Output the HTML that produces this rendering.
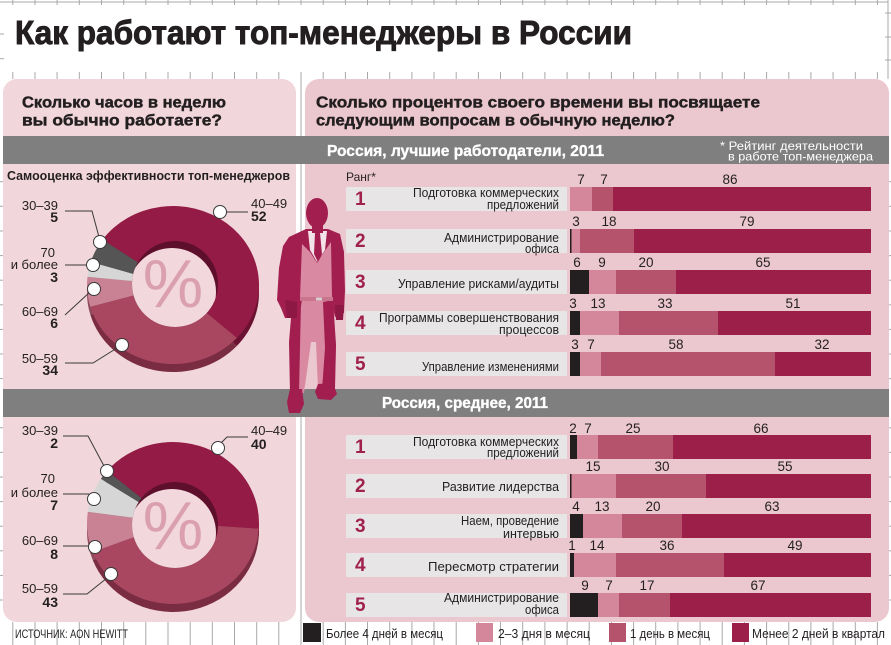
<!DOCTYPE html>
<html><head><meta charset="utf-8">
<style>
html,body{margin:0;padding:0;background:#fff;}
svg{display:block;}
text{font-family:"Liberation Sans","DejaVu Sans",sans-serif;fill:#231f20;}
.w{fill:#fff;}
.b{font-weight:bold;}
.hv{font-weight:bold;stroke:#231f20;stroke-width:0.45;}
.hw{font-weight:bold;fill:#fff;stroke:#fff;stroke-width:0.35;}
.lbl{font-size:13px;text-anchor:end;}
.num{font-size:13.5px;text-anchor:middle;}
.rk{font-size:19px;font-weight:bold;fill:#a0204e;}
.dl{font-size:13px;text-anchor:end;}
.dn{font-size:14px;font-weight:bold;text-anchor:end;}
.ld{stroke:#3a3a3a;stroke-width:1;fill:none;}
.mk{fill:#fff;stroke:#3a3a3a;stroke-width:1;}
.g{stroke:#a8a8a8;stroke-width:1;}
</style></head><body>
<svg width="891" height="645" viewBox="0 0 891 645" xmlns="http://www.w3.org/2000/svg">
<defs>
<clipPath id="h1"><ellipse cx="175" cy="284" rx="43" ry="43"/></clipPath>
<clipPath id="h2"><ellipse cx="175" cy="525" rx="43" ry="43"/></clipPath>
</defs>
<rect width="891" height="645" fill="#fff"/>

<!-- grid marks -->
<g class="g">
<line x1="0" y1="2" x2="888" y2="2"/>
<line x1="888" y1="0" x2="888" y2="79"/>
<line x1="301" y1="79" x2="301" y2="622"/>
<g id="ticks">
<line x1="12.8" y1="0" x2="12.8" y2="5"/><line x1="35" y1="0" x2="35" y2="5"/><line x1="57.1" y1="0" x2="57.1" y2="5"/><line x1="79.3" y1="0" x2="79.3" y2="5"/><line x1="101.5" y1="0" x2="101.5" y2="5"/><line x1="123.7" y1="0" x2="123.7" y2="5"/><line x1="145.8" y1="0" x2="145.8" y2="5"/><line x1="168" y1="0" x2="168" y2="5"/><line x1="190.2" y1="0" x2="190.2" y2="5"/><line x1="212.3" y1="0" x2="212.3" y2="5"/><line x1="234.5" y1="0" x2="234.5" y2="5"/><line x1="256.7" y1="0" x2="256.7" y2="5"/><line x1="278.8" y1="0" x2="278.8" y2="5"/><line x1="301" y1="0" x2="301" y2="5"/><line x1="323.2" y1="0" x2="323.2" y2="5"/><line x1="345.4" y1="0" x2="345.4" y2="5"/><line x1="367.5" y1="0" x2="367.5" y2="5"/><line x1="389.7" y1="0" x2="389.7" y2="5"/><line x1="411.9" y1="0" x2="411.9" y2="5"/><line x1="434" y1="0" x2="434" y2="5"/><line x1="456.2" y1="0" x2="456.2" y2="5"/><line x1="478.4" y1="0" x2="478.4" y2="5"/><line x1="500.5" y1="0" x2="500.5" y2="5"/><line x1="522.7" y1="0" x2="522.7" y2="5"/><line x1="544.9" y1="0" x2="544.9" y2="5"/><line x1="567.1" y1="0" x2="567.1" y2="5"/><line x1="589.2" y1="0" x2="589.2" y2="5"/><line x1="611.4" y1="0" x2="611.4" y2="5"/><line x1="633.6" y1="0" x2="633.6" y2="5"/><line x1="655.7" y1="0" x2="655.7" y2="5"/><line x1="677.9" y1="0" x2="677.9" y2="5"/><line x1="700.1" y1="0" x2="700.1" y2="5"/><line x1="722.2" y1="0" x2="722.2" y2="5"/><line x1="744.4" y1="0" x2="744.4" y2="5"/><line x1="766.6" y1="0" x2="766.6" y2="5"/><line x1="788.8" y1="0" x2="788.8" y2="5"/><line x1="810.9" y1="0" x2="810.9" y2="5"/><line x1="833.1" y1="0" x2="833.1" y2="5"/><line x1="855.3" y1="0" x2="855.3" y2="5"/><line x1="877.4" y1="0" x2="877.4" y2="5"/>
</g>
<use href="#ticks" transform="translate(0,72) scale(1,1.4)"/>
<use href="#ticks" transform="translate(0,622) scale(1,4.6)"/>
<line x1="0" y1="34" x2="4" y2="34"/><line x1="0" y1="58.7" x2="4" y2="58.7"/><line x1="0" y1="181.7" x2="5" y2="181.7"/><line x1="0" y1="206.3" x2="5" y2="206.3"/><line x1="0" y1="231" x2="5" y2="231"/><line x1="0" y1="255.6" x2="5" y2="255.6"/><line x1="0" y1="280.2" x2="5" y2="280.2"/><line x1="0" y1="304.8" x2="5" y2="304.8"/><line x1="0" y1="329.4" x2="5" y2="329.4"/><line x1="0" y1="354" x2="5" y2="354"/><line x1="0" y1="378.6" x2="5" y2="378.6"/><line x1="0" y1="427.8" x2="5" y2="427.8"/><line x1="0" y1="452.4" x2="5" y2="452.4"/><line x1="0" y1="477" x2="5" y2="477"/><line x1="0" y1="501.6" x2="5" y2="501.6"/><line x1="0" y1="526.2" x2="5" y2="526.2"/><line x1="0" y1="550.8" x2="5" y2="550.8"/><line x1="0" y1="575.4" x2="5" y2="575.4"/><line x1="0" y1="600" x2="5" y2="600"/>
<line x1="885" y1="13" x2="891" y2="13"/><line x1="885" y1="37" x2="891" y2="37"/><line x1="885" y1="60" x2="891" y2="60"/><line x1="886" y1="181.7" x2="891" y2="181.7"/><line x1="886" y1="206.3" x2="891" y2="206.3"/><line x1="886" y1="231" x2="891" y2="231"/><line x1="886" y1="255.6" x2="891" y2="255.6"/><line x1="886" y1="280.2" x2="891" y2="280.2"/><line x1="886" y1="304.8" x2="891" y2="304.8"/><line x1="886" y1="329.4" x2="891" y2="329.4"/><line x1="886" y1="354" x2="891" y2="354"/><line x1="886" y1="378.6" x2="891" y2="378.6"/><line x1="886" y1="427.8" x2="891" y2="427.8"/><line x1="886" y1="452.4" x2="891" y2="452.4"/><line x1="886" y1="477" x2="891" y2="477"/><line x1="886" y1="501.6" x2="891" y2="501.6"/><line x1="886" y1="526.2" x2="891" y2="526.2"/><line x1="886" y1="550.8" x2="891" y2="550.8"/><line x1="886" y1="575.4" x2="891" y2="575.4"/><line x1="886" y1="600" x2="891" y2="600"/>
</g>

<!-- title -->
<text x="15" y="44" font-size="33" class="hv" style="stroke-width:0.9" textLength="617" lengthAdjust="spacingAndGlyphs">Как работают топ-менеджеры в России</text>

<!-- panels -->
<rect x="3" y="79" width="293" height="543" rx="14" fill="#f1d6db"/>
<rect x="305" y="79" width="584" height="543" rx="14" fill="#ebc8cf"/>

<!-- headings -->
<text x="22" y="107.5" font-size="16" class="hv" textLength="204" lengthAdjust="spacingAndGlyphs">Сколько часов в неделю</text>
<text x="22" y="125.5" font-size="16" class="hv" textLength="200" lengthAdjust="spacingAndGlyphs">вы обычно работаете?</text>
<text x="316" y="107.5" font-size="16" class="hv" textLength="444" lengthAdjust="spacingAndGlyphs">Сколько процентов своего времени вы посвящаете</text>
<text x="316" y="125.5" font-size="16" class="hv" textLength="359" lengthAdjust="spacingAndGlyphs">следующим вопросам в обычную неделю?</text>

<!-- bands -->
<rect x="3" y="136" width="886" height="28" fill="#7f7f7f"/>
<rect x="3" y="389" width="886" height="28" fill="#7f7f7f"/>
<text x="327" y="156" font-size="16" class="hw" textLength="277" lengthAdjust="spacingAndGlyphs">Россия, лучшие работодатели, 2011</text>
<text x="382" y="408" font-size="16" class="hw" textLength="166" lengthAdjust="spacingAndGlyphs">Россия, среднее, 2011</text>
<text x="720" y="150" font-size="12" class="w" textLength="143" lengthAdjust="spacingAndGlyphs">* Рейтинг деятельности</text>
<text x="728" y="160.5" font-size="12" class="w" textLength="145" lengthAdjust="spacingAndGlyphs">в работе топ-менеджера</text>

<text x="7" y="180" font-size="13" class="b" textLength="283" lengthAdjust="spacingAndGlyphs">Самооценка эффективности топ-менеджеров</text>

<!-- DONUT 1 -->
<g transform="translate(0,8)">
<path d="M173,285 L102.55,239.69 A86,79 0 1,1 236.91,337.86 Z" fill="#6b1232"/>
<path d="M173,285 L236.91,337.86 A86,79 0 0,1 90.33,306.77 Z" fill="#7a2c43"/>
<path d="M173,285 L90.33,306.77 A86,79 0 0,1 87.47,276.74 Z" fill="#8f4a5c"/>
<path d="M173,285 L87.47,276.74 A86,79 0 0,1 90.76,261.90 Z" fill="#9d9d9d"/>
<path d="M173,285 L90.76,261.90 A86,79 0 0,1 102.55,239.69 Z" fill="#3a3a3a"/>
</g>
<path d="M173,285 L102.55,239.69 A86,79 0 1,1 236.91,337.86 Z" fill="#931b45"/>
<path d="M173,285 L236.91,337.86 A86,79 0 0,1 90.33,306.77 Z" fill="#a8475f"/>
<path d="M173,285 L90.33,306.77 A86,79 0 0,1 87.47,276.74 Z" fill="#c98294"/>
<path d="M173,285 L87.47,276.74 A86,79 0 0,1 90.76,261.90 Z" fill="#d6d6d6"/>
<path d="M173,285 L90.76,261.90 A86,79 0 0,1 102.55,239.69 Z" fill="#555555"/>
<ellipse cx="175" cy="284" rx="43" ry="43" fill="#5e0f2c"/>
<ellipse cx="172" cy="292" rx="44" ry="44" fill="#f2d7dc" clip-path="url(#h1)"/>
<text x="173" y="307" font-size="68" text-anchor="middle" style="fill:#dba0b0">%</text>

<polyline class="ld" points="65,211 92,211 99,237"/>
<polyline class="ld" points="65,265 88,265"/>
<polyline class="ld" points="65,315 90,292"/>
<polyline class="ld" points="65,363 93,363 117,348"/>
<polyline class="ld" points="225,212 248,212"/>
<circle class="mk" cx="100" cy="242" r="6.5"/>
<circle class="mk" cx="93" cy="265" r="6.5"/>
<circle class="mk" cx="94" cy="289" r="6.5"/>
<circle class="mk" cx="122" cy="345" r="6.5"/>
<circle class="mk" cx="220" cy="212" r="6.5"/>

<text class="dl" x="58" y="210">30–39</text><text class="dn" x="58" y="222">5</text>
<text class="dl" x="55" y="257">70</text><text class="dl" x="58" y="269">и более</text><text class="dn" x="58" y="282">3</text>
<text class="dl" x="58" y="316">60–69</text><text class="dn" x="58" y="328">6</text>
<text class="dl" x="58" y="363">50–59</text><text class="dn" x="58" y="375">34</text>
<text x="251" y="208" font-size="13">40–49</text><text x="251" y="221" font-size="14" class="b">52</text>

<!-- DONUT 2 -->
<g transform="translate(0,8)">
<path d="M173,523 L107.12,470.93 A86,81 0 0,1 258.79,528.65 Z" fill="#6b1232"/>
<path d="M173,523 L258.79,528.65 A86,81 0 0,1 92.71,552.03 Z" fill="#7a2c43"/>
<path d="M173,523 L92.71,552.03 A86,81 0 0,1 87.84,511.73 Z" fill="#8f4a5c"/>
<path d="M173,523 L87.84,511.73 A86,81 0 0,1 100.87,478.89 Z" fill="#9d9d9d"/>
<path d="M173,523 L100.87,478.89 A86,81 0 0,1 107.12,470.93 Z" fill="#3a3a3a"/>
</g>
<path d="M173,523 L107.12,470.93 A86,81 0 0,1 258.79,528.65 Z" fill="#931b45"/>
<path d="M173,523 L258.79,528.65 A86,81 0 0,1 92.71,552.03 Z" fill="#a8475f"/>
<path d="M173,523 L92.71,552.03 A86,81 0 0,1 87.84,511.73 Z" fill="#c98294"/>
<path d="M173,523 L87.84,511.73 A86,81 0 0,1 100.87,478.89 Z" fill="#d6d6d6"/>
<path d="M173,523 L100.87,478.89 A86,81 0 0,1 107.12,470.93 Z" fill="#555555"/>
<ellipse cx="175" cy="525" rx="43" ry="43" fill="#5e0f2c"/>
<ellipse cx="172" cy="533" rx="44" ry="44" fill="#f2d7dc" clip-path="url(#h2)"/>
<text x="173" y="549" font-size="68" text-anchor="middle" style="fill:#dba0b0">%</text>

<polyline class="ld" points="63,436 88,436 104,466"/>
<polyline class="ld" points="63,494 89,494"/>
<polyline class="ld" points="63,546 89,546"/>
<polyline class="ld" points="63,594 87,594 107,578"/>
<polyline class="ld" points="221,443 227,437 248,437"/>
<circle class="mk" cx="107" cy="471" r="6.5"/>
<circle class="mk" cx="94" cy="499" r="6.5"/>
<circle class="mk" cx="95" cy="547" r="6.5"/>
<circle class="mk" cx="111" cy="574" r="6.5"/>
<circle class="mk" cx="218" cy="448" r="6.5"/>

<text class="dl" x="58" y="435">30–39</text><text class="dn" x="58" y="448">2</text>
<text class="dl" x="55" y="483">70</text><text class="dl" x="58" y="497">и более</text><text class="dn" x="58" y="510">7</text>
<text class="dl" x="58" y="545">60–69</text><text class="dn" x="58" y="559">8</text>
<text class="dl" x="58" y="593">50–59</text><text class="dn" x="58" y="607">43</text>
<text x="251" y="435" font-size="13">40–49</text><text x="251" y="449" font-size="14" class="b">40</text>

<!-- RIGHT: rows -->
<text x="346" y="181" font-size="12">Ранг*</text>
<g fill="#e7e5e6">
<rect x="346" y="187" width="221" height="24"/>
<rect x="346" y="229" width="221" height="24"/>
<rect x="346" y="270" width="221" height="24"/>
<rect x="346" y="311" width="221" height="24"/>
<rect x="346" y="352" width="221" height="24"/>
<rect x="346" y="435" width="221" height="24"/>
<rect x="346" y="474" width="221" height="24"/>
<rect x="346" y="514" width="221" height="24"/>
<rect x="346" y="553" width="221" height="24"/>
<rect x="346" y="593" width="221" height="24"/>
</g>
<text class="rk" x="355" y="205">1</text>
<text class="rk" x="355" y="247">2</text>
<text class="rk" x="355" y="288">3</text>
<text class="rk" x="355" y="329">4</text>
<text class="rk" x="355" y="370">5</text>
<text class="rk" x="355" y="453">1</text>
<text class="rk" x="355" y="492">2</text>
<text class="rk" x="355" y="532">3</text>
<text class="rk" x="355" y="571">4</text>
<text class="rk" x="355" y="611">5</text>

<text class="lbl" x="559" y="197" textLength="146" lengthAdjust="spacingAndGlyphs">Подготовка коммерческих</text>
<text class="lbl" x="559" y="209" textLength="72" lengthAdjust="spacingAndGlyphs">предложений</text>
<text class="lbl" x="559" y="242" textLength="115" lengthAdjust="spacingAndGlyphs">Администрирование</text>
<text class="lbl" x="559" y="253" textLength="34" lengthAdjust="spacingAndGlyphs">офиса</text>
<text class="lbl" x="559" y="288" textLength="161" lengthAdjust="spacingAndGlyphs">Управление рисками/аудиты</text>
<text class="lbl" x="559" y="322" textLength="180" lengthAdjust="spacingAndGlyphs">Программы совершенствования</text>
<text class="lbl" x="559" y="334" textLength="60" lengthAdjust="spacingAndGlyphs">процессов</text>
<text class="lbl" x="559" y="371" textLength="137" lengthAdjust="spacingAndGlyphs">Управление изменениями</text>

<text class="lbl" x="559" y="446" textLength="146" lengthAdjust="spacingAndGlyphs">Подготовка коммерческих</text>
<text class="lbl" x="559" y="457" textLength="72" lengthAdjust="spacingAndGlyphs">предложений</text>
<text class="lbl" x="559" y="491" textLength="117" lengthAdjust="spacingAndGlyphs">Развитие лидерства</text>
<text class="lbl" x="559" y="525" textLength="98" lengthAdjust="spacingAndGlyphs">Наем, проведение</text>
<text class="lbl" x="559" y="538" textLength="56" lengthAdjust="spacingAndGlyphs">интервью</text>
<text class="lbl" x="559" y="571" textLength="131" lengthAdjust="spacingAndGlyphs">Пересмотр стратегии</text>
<text class="lbl" x="559" y="602" textLength="115" lengthAdjust="spacingAndGlyphs">Администрирование</text>
<text class="lbl" x="559" y="614" textLength="34" lengthAdjust="spacingAndGlyphs">офиса</text>

<!-- bars top -->
<g>
<rect x="570" y="187" width="22" height="24" fill="#d4869a"/><rect x="592" y="187" width="21" height="24" fill="#b5536c"/><rect x="613" y="187" width="258" height="24" fill="#9c1f4a"/>
<rect x="570" y="229" width="1.5" height="24" fill="#231f20"/><rect x="571.5" y="229" width="8.5" height="24" fill="#d4869a"/><rect x="580" y="229" width="54" height="24" fill="#b5536c"/><rect x="634" y="229" width="237" height="24" fill="#9c1f4a"/>
<rect x="570" y="270" width="19" height="24" fill="#231f20"/><rect x="589" y="270" width="27" height="24" fill="#d4869a"/><rect x="616" y="270" width="60" height="24" fill="#b5536c"/><rect x="676" y="270" width="195" height="24" fill="#9c1f4a"/>
<rect x="570" y="311" width="10" height="24" fill="#231f20"/><rect x="580" y="311" width="39" height="24" fill="#d4869a"/><rect x="619" y="311" width="99" height="24" fill="#b5536c"/><rect x="718" y="311" width="153" height="24" fill="#9c1f4a"/>
<rect x="570" y="352" width="10" height="24" fill="#231f20"/><rect x="580" y="352" width="21" height="24" fill="#d4869a"/><rect x="601" y="352" width="174" height="24" fill="#b5536c"/><rect x="775" y="352" width="96" height="24" fill="#9c1f4a"/>
</g>
<!-- bars bottom -->
<g>
<rect x="570" y="435" width="7" height="24" fill="#231f20"/><rect x="577" y="435" width="21" height="24" fill="#d4869a"/><rect x="598" y="435" width="75" height="24" fill="#b5536c"/><rect x="673" y="435" width="198" height="24" fill="#9c1f4a"/>
<rect x="570" y="474" width="1.5" height="24" fill="#231f20"/><rect x="571.5" y="474" width="44.5" height="24" fill="#d4869a"/><rect x="616" y="474" width="90" height="24" fill="#b5536c"/><rect x="706" y="474" width="165" height="24" fill="#9c1f4a"/>
<rect x="570" y="514" width="13" height="24" fill="#231f20"/><rect x="583" y="514" width="39" height="24" fill="#d4869a"/><rect x="622" y="514" width="60" height="24" fill="#b5536c"/><rect x="682" y="514" width="189" height="24" fill="#9c1f4a"/>
<rect x="570" y="553" width="4" height="24" fill="#231f20"/><rect x="574" y="553" width="42" height="24" fill="#d4869a"/><rect x="616" y="553" width="108" height="24" fill="#b5536c"/><rect x="724" y="553" width="147" height="24" fill="#9c1f4a"/>
<rect x="570" y="593" width="28" height="24" fill="#231f20"/><rect x="598" y="593" width="21" height="24" fill="#d4869a"/><rect x="619" y="593" width="51" height="24" fill="#b5536c"/><rect x="670" y="593" width="201" height="24" fill="#9c1f4a"/>
</g>

<!-- bar values -->
<g>
<text class="num" x="581" y="184">7</text><text class="num" x="604" y="184">7</text><text class="num" x="730" y="184">86</text>
<text class="num" x="576" y="226">3</text><text class="num" x="609" y="226">18</text><text class="num" x="747" y="226">79</text>
<text class="num" x="577" y="267">6</text><text class="num" x="602" y="267">9</text><text class="num" x="646" y="267">20</text><text class="num" x="763" y="267">65</text>
<text class="num" x="573" y="308">3</text><text class="num" x="598" y="308">13</text><text class="num" x="665" y="308">33</text><text class="num" x="793" y="308">51</text>
<text class="num" x="575" y="349">3</text><text class="num" x="591" y="349">7</text><text class="num" x="676" y="349">58</text><text class="num" x="822" y="349">32</text>
<text class="num" x="573" y="433">2</text><text class="num" x="588" y="433">7</text><text class="num" x="633" y="433">25</text><text class="num" x="761" y="433">66</text>
<text class="num" x="593" y="471">15</text><text class="num" x="662" y="471">30</text><text class="num" x="785" y="471">55</text>
<text class="num" x="576" y="511">4</text><text class="num" x="602" y="511">13</text><text class="num" x="653" y="511">20</text><text class="num" x="772" y="511">63</text>
<text class="num" x="572" y="550">1</text><text class="num" x="597" y="550">14</text><text class="num" x="667" y="550">36</text><text class="num" x="795" y="550">49</text>
<text class="num" x="585" y="590">9</text><text class="num" x="609" y="590">7</text><text class="num" x="647" y="590">17</text><text class="num" x="758" y="590">67</text>
</g>

<!-- man figure -->
<g>
<polygon points="300,300 333,300 336,345 335,388 318,390 316,342 311,342 304,393 290,393 291,340" fill="#d98aa2"/>
<polygon points="292,306 301,302 299,393 290,393 289,342" fill="#a11e4f"/>
<polygon points="323,302 333,300 336,345 335,388 322,390 325,348" fill="#a11e4f"/>
<polygon points="290,389 302,389 304,404 300,413 289,413 287,402" fill="#a11e4f"/>
<polygon points="318,384 333,383 337,394 331,400 318,399 315,392" fill="#a11e4f"/>
<polygon points="289,237 306,229 328,229 340,234 344,252 345,290 344,313 335,317 331,300 302,300 299,318 285,318 281,308 277,300 279,268 283,246" fill="#a11e4f"/>
<polygon points="302,244 310,252 317,263 324,252 331,242 332,298 300,298" fill="#d98aa2"/>
<polygon points="308,231 327,231 325,250 317,262 310,250" fill="#f3e3e8"/>
<polygon points="315,233 320,233 322,254 318,262 314,254" fill="#a11e4f"/>
<rect x="300" y="297" width="33" height="4" fill="#c9758d"/>
<rect x="316" y="297.5" width="6" height="3" fill="#d8d0d3"/>
<rect x="312" y="222" width="11" height="11" fill="#a11e4f"/>
<ellipse cx="317" cy="213" rx="11" ry="15" fill="#a11e4f"/>
<polygon points="285,300 297,302 297,318 287,318" fill="#8d1843"/>
<polygon points="335,305 344,305 343,320 336,320" fill="#8d1843"/>
</g>

<!-- footer -->
<text x="15" y="638" font-size="12" textLength="113" lengthAdjust="spacingAndGlyphs">ИСТОЧНИК: AON HEWITT</text>
<rect x="303" y="623" width="18" height="19" fill="#231f20"/>
<text x="326" y="638" font-size="13" textLength="117" lengthAdjust="spacingAndGlyphs">Более 4 дней в месяц</text>
<rect x="476" y="623" width="17" height="19" fill="#d4869a"/>
<text x="498" y="638" font-size="13" textLength="92" lengthAdjust="spacingAndGlyphs">2–3 дня в месяц</text>
<rect x="609" y="623" width="17" height="19" fill="#b5536c"/>
<text x="630" y="638" font-size="13" textLength="80" lengthAdjust="spacingAndGlyphs">1 день в месяц</text>
<rect x="732" y="623" width="17" height="19" fill="#9c1f4a"/>
<text x="752" y="638" font-size="13" textLength="133" lengthAdjust="spacingAndGlyphs">Менее 2 дней в квартал</text>
</svg>
</body></html>
